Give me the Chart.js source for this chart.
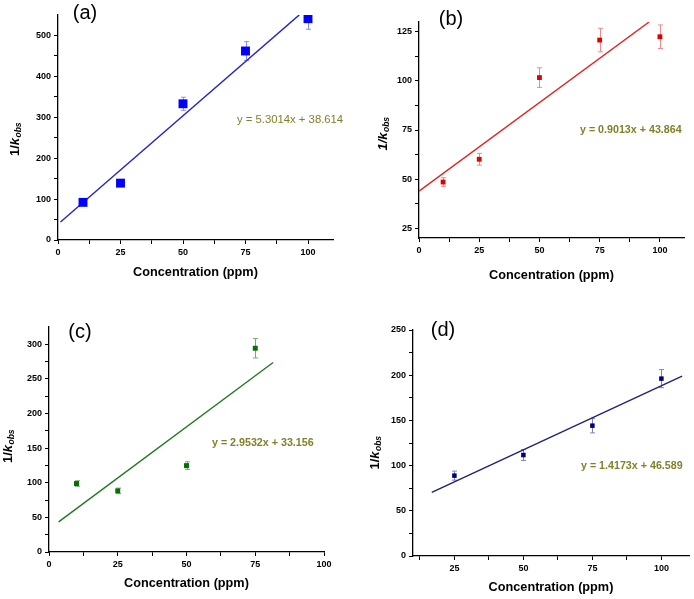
<!DOCTYPE html>
<html>
<head>
<meta charset="utf-8">
<script src="https://cdn.jsdelivr.net/npm/chart.js@4.4.0/dist/chart.umd.min.js"></script>
<style>
html, body { margin:0; padding:0; background:#fff; }
#wrap { position:relative; width:694px; height:599px; }
.panel { position:absolute; }
canvas { display:block; }
</style>
</head>
<body>
<div id="wrap">
    <div class="panel" style="left:0;top:0"><canvas id="chartA" width="347" height="300"></canvas></div>
    <div class="panel" style="left:347px;top:0"><canvas id="chartB" width="347" height="300"></canvas></div>
    <div class="panel" style="left:0;top:300px"><canvas id="chartC" width="347" height="299"></canvas></div>
    <div class="panel" style="left:347px;top:300px"><canvas id="chartD" width="347" height="299"></canvas></div>
</div>
<script>
/* =========================
   DATA
========================= */

// (a)
const concA  = [10, 25, 50, 75, 100];
const invKA  = [92, 139, 333, 462, 541];
const errA   = [3, 3, 16, 23, 26];
const fitXA  = [1, 96.5];
const fitYA  = [43.9, 550.2];
const xTicksA = [0, 12.5, 25, 37.5, 50, 62.5, 75, 87.5, 100];
const yTicksA = [0, 50, 100, 150, 200, 250, 300, 350, 400, 450, 500];

// (b)
const concB  = [10, 25, 50, 75, 100];
const invKB  = [48.5, 60.1, 101.7, 120.8, 122.5];
const errB   = [2.2, 3, 5, 6, 6];
const fitXB  = [0, 95.5];
const fitYB  = [43.9, 130];
const xTicksB = [0, 12.5, 25, 37.5, 50, 62.5, 75, 87.5, 100];
const yTicksB = [25, 37.5, 50, 62.5, 75, 87.5, 100, 112.5, 125];

// (c)
const concC  = [10, 25, 50, 75];
const invKC  = [98.9, 88.3, 124.8, 294.3];
const errC   = [4, 4, 5.5, 14];
const fitXC  = [3.5, 81.5];
const fitYC  = [43.5, 273.8];
const xTicksC = [0, 12.5, 25, 37.5, 50, 62.5, 75, 87.5, 100];
const yTicksC = [0, 25, 50, 75, 100, 125, 150, 175, 200, 225, 250, 275, 300];

// (d)
const concD  = [25, 50, 75, 100];
const invKD  = [88.9, 111.7, 144.2, 196.2];
const errD   = [5, 6, 8, 10];
const fitXD  = [16.8, 107.5];
const fitYD  = [70.4, 199.0];
const xTicksD = [12.5, 25, 37.5, 50, 62.5, 75, 87.5, 100];
const yTicksD = [0, 25, 50, 75, 100, 125, 150, 175, 200, 225, 250];

const FONT = '"Liberation Sans", Arial, sans-serif';

/* =========================
   PANEL SETUP
========================= */

const panels = [
    {
        id: 'chartA', tag: '(a)', eq: 'y = 5.3014x + 38.614', eqBold: false,
        x: concA, y: invKA, err: errA, fitX: fitXA, fitY: fitYA,
        xTicks: xTicksA, yTicks: yTicksA, xMajor: 25, yMajor: 100,
        xMin: 0, xMax: 110, yMin: 0, yMax: 550,
        plot: { l: 58, t: 15, r: 333, b: 240 },
        marker: '#0000ff', line: '#2323d2', errColor: '#8c8cff', radius: 6.3,
        tagPos: [27, -2], eqPos: [179, 105], xTitleDy: 32, yTitlePos: [-43, 12], italicAll: false
    },
    {
        id: 'chartB', tag: '(b)', eq: 'y = 0.9013x + 43.864', eqBold: true,
        x: concB, y: invKB, err: errB, fitX: fitXB, fitY: fitYB,
        xTicks: xTicksB, yTicks: yTicksB, xMajor: 25, yMajor: 25,
        xMin: 0, xMax: 110, yMin: 20, yMax: 130,
        plot: { l: 72, t: 22, r: 337, b: 238 },
        marker: '#e00000', line: '#e42222', errColor: '#f08a8a', radius: 3.4,
        tagPos: [32, -3], eqPos: [161, 108], xTitleDy: 37, yTitlePos: [-36, 4], italicAll: true
    },
    {
        id: 'chartC', tag: '(c)', eq: 'y = 2.9532x + 33.156', eqBold: true,
        x: concC, y: invKC, err: errC, fitX: fitXC, fitY: fitYC,
        xTicks: xTicksC, yTicks: yTicksC, xMajor: 25, yMajor: 50,
        xMin: 0, xMax: 100, yMin: 0, yMax: 325,
        plot: { l: 49, t: 27, r: 324, b: 252 },
        marker: '#067006', line: '#1f7a1f', errColor: '#6fae6f', radius: 3.5,
        tagPos: [31, 5], eqPos: [163, 116], xTitleDy: 31, yTitlePos: [-41, 7], italicAll: false
    },
    {
        id: 'chartD', tag: '(d)', eq: 'y = 1.4173x + 46.589', eqBold: true,
        x: concD, y: invKD, err: errD, fitX: fitXD, fitY: fitYD,
        xTicks: xTicksD, yTicks: yTicksD, xMajor: 25, yMajor: 50,
        xMin: 10, xMax: 110, yMin: 0, yMax: 250,
        plot: { l: 66, t: 30, r: 342, b: 256 },
        marker: '#00007f', line: '#20207f', errColor: '#8080c0', radius: 3.2,
        tagPos: [30, 0], eqPos: [168, 136], xTitleDy: 31, yTitlePos: [-38, 10], italicAll: false
    }
];

const Y_AXIS_W = 40;
const X_AXIS_H = 40;

/* =========================
   PLUGINS
========================= */

const errorBars = {
    id: 'errorBars',
    beforeDatasetsDraw(chart, args, opts) {
        const cfg = chart.$panel;
        const xs = chart.scales.x, ys = chart.scales.y;
        const area = chart.chartArea;
        const ctx = chart.ctx;
        ctx.save();
        ctx.beginPath();
        ctx.rect(area.left, area.top, area.right - area.left, area.bottom - area.top);
        ctx.clip();
        ctx.strokeStyle = cfg.errColor;
        ctx.lineWidth = 1;
        cfg.x.forEach((xv, i) => {
            const px = Math.round(xs.getPixelForValue(xv)) + 0.5;
            const top = ys.getPixelForValue(cfg.y[i] + cfg.err[i]);
            const bot = ys.getPixelForValue(cfg.y[i] - cfg.err[i]);
            ctx.beginPath();
            ctx.moveTo(px, top); ctx.lineTo(px, bot);
            ctx.moveTo(px - 2.5, top); ctx.lineTo(px + 2.5, top);
            ctx.moveTo(px - 2.5, bot); ctx.lineTo(px + 2.5, bot);
            ctx.stroke();
        });
        ctx.restore();
    }
};

const panelText = {
    id: 'panelText',
    afterDraw(chart) {
        const cfg = chart.$panel;
        const area = chart.chartArea;
        const ctx = chart.ctx;
        ctx.save();

        // panel tag
        ctx.fillStyle = '#000';
        ctx.font = '20px ' + FONT;
        ctx.textAlign = 'center';
        ctx.textBaseline = 'middle';
        ctx.fillText(cfg.tag, area.left + cfg.tagPos[0], area.top + cfg.tagPos[1]);

        // regression equation
        ctx.fillStyle = '#80802a';
        ctx.font = cfg.eqBold ? 'bold 10.7px ' + FONT : '11.3px ' + FONT;
        ctx.textAlign = 'left';
        ctx.fillText(cfg.eq, area.left + cfg.eqPos[0], area.top + cfg.eqPos[1]);

        // x title
        ctx.fillStyle = '#000';
        ctx.font = 'bold 12.7px ' + FONT;
        ctx.textAlign = 'center';
        ctx.fillText('Concentration (ppm)', (area.left + area.right) / 2, area.bottom + cfg.xTitleDy);

        // y title 1/k_obs
        const cx = area.left + cfg.yTitlePos[0];
        const cy = (area.top + area.bottom) / 2 + cfg.yTitlePos[1];
        const mainFont = (cfg.italicAll ? 'italic ' : '') + 'bold 13px ' + FONT;
        const kFont = 'italic bold 13px ' + FONT;
        const subFont = 'italic bold 8.5px ' + FONT;
        ctx.translate(cx, cy);
        ctx.rotate(-Math.PI / 2);
        ctx.textAlign = 'left';
        ctx.font = mainFont; const w1 = ctx.measureText('1/').width;
        ctx.font = kFont;    const w2 = ctx.measureText('k').width;
        ctx.font = subFont;  const w3 = ctx.measureText('obs').width;
        let pos = -(w1 + w2 + w3) / 2;
        ctx.font = mainFont; ctx.fillText('1/', pos, 0); pos += w1;
        ctx.font = kFont;    ctx.fillText('k', pos, 0); pos += w2 + 0.5;
        ctx.font = subFont;  ctx.fillText('obs', pos, 4);

        ctx.restore();
    }
};

/* =========================
   CHARTS
========================= */

function axisOpts(ticks, major, min, max, isX) {
    return {
        type: 'linear',
        min: min,
        max: max,
        afterBuildTicks: function(axis) {
            axis.ticks = ticks.map(v => ({ value: v }));
        },
        afterFit: function(axis) {
            if (isX) axis.height = X_AXIS_H;
            else axis.width = Y_AXIS_W;
        },
        grid: {
            drawOnChartArea: false,
            drawTicks: true,
            tickLength: 4,
            tickColor: '#000',
            tickWidth: 1
        },
        border: {
            display: true,
            color: '#000',
            width: 1.3
        },
        ticks: {
            color: '#000',
            font: { family: FONT, size: 9, weight: 'bold' },
            padding: isX ? 3 : 3,
            autoSkip: false,
            maxRotation: 0,
            callback: function(value) {
                return (Math.abs(value % major) < 1e-6) ? String(value) : '';
            }
        }
    };
}

panels.forEach(function(cfg) {
    const canvas = document.getElementById(cfg.id);
    const W = canvas.width, H = canvas.height;

    const chart = new Chart(canvas, {
        type: 'scatter',
        data: {
            datasets: [
                {
                    data: cfg.x.map((xv, i) => ({ x: xv, y: cfg.y[i] })),
                    pointStyle: 'rect',
                    pointRadius: cfg.radius,
                    pointBackgroundColor: cfg.marker,
                    pointBorderColor: cfg.marker,
                    pointBorderWidth: 0,
                    showLine: false,
                    order: 0
                },
                {
                    type: 'line',
                    data: cfg.fitX.map((xv, i) => ({ x: xv, y: cfg.fitY[i] })),
                    borderColor: cfg.line,
                    borderWidth: 1.4,
                    pointRadius: 0,
                    fill: false,
                    tension: 0,
                    order: 1
                }
            ]
        },
        options: {
            responsive: false,
            animation: false,
            events: [],
            layout: {
                padding: {
                    left: cfg.plot.l - Y_AXIS_W,
                    top: cfg.plot.t,
                    right: W - cfg.plot.r,
                    bottom: H - cfg.plot.b - X_AXIS_H
                }
            },
            plugins: {
                legend: { display: false },
                tooltip: { enabled: false }
            },
            scales: {
                x: axisOpts(cfg.xTicks, cfg.xMajor, cfg.xMin, cfg.xMax, true),
                y: axisOpts(cfg.yTicks, cfg.yMajor, cfg.yMin, cfg.yMax, false)
            }
        },
        plugins: [
            {
                id: 'attachPanel',
                beforeInit(c) { c.$panel = cfg; }
            },
            errorBars,
            panelText
        ]
    });
});
</script>
</body>
</html>
